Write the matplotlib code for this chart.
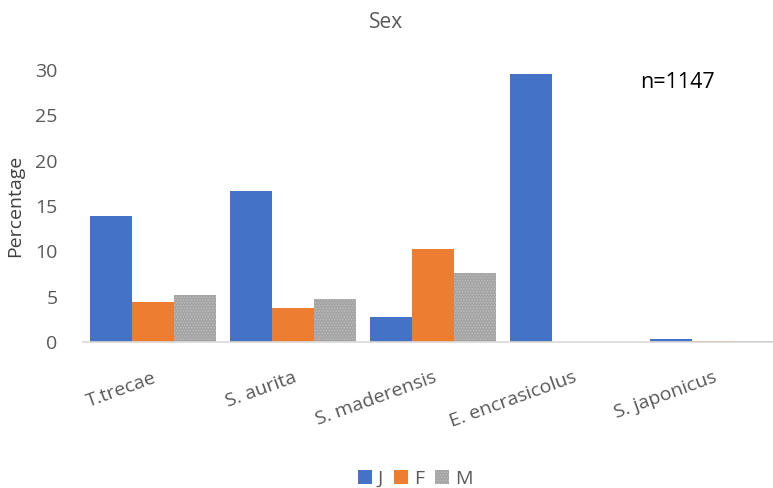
import matplotlib
matplotlib.use("Agg")
import matplotlib.pyplot as plt
import numpy as np

plt.rcParams['font.family'] = ['Open Sans', 'DejaVu Sans']
plt.rcParams['hatch.linewidth'] = 0.6

species = ["T.trecae", "S. aurita", "S. maderensis", "E. encrasicolus", "S. japonicus"]
juv = [13.9, 16.6, 2.8, 29.5, 0.3]
fem = [4.4, 3.8, 10.3, 0.0, 0.1]
male = [5.2, 4.7, 7.6, 0.0, 0.1]

txt = '#595959'

fig = plt.figure(figsize=(7.73, 4.88), dpi=100)
ax = fig.add_axes([0.107, 0.299, 0.906, 0.558])

x = np.arange(len(species))
w = 0.3
ax.bar(x - w, juv, w, color='#4472c4', label='J')
ax.bar(x, fem, w, color='#ed7d31', label='F')
ax.bar(x + w, male, w, color='#a5a5a5', hatch='......', edgecolor='#bdbdbd',
       linewidth=0, label='M')

ax.set_xlim(-0.5, len(species) - 0.5)
ax.set_ylim(0, 30)
ax.set_yticks(range(0, 31, 5))
ax.set_xticks(x)
ax.set_xticklabels(species, rotation=20, ha='right', rotation_mode='anchor',
                   color=txt, fontsize=14)
ax.tick_params(axis='both', length=0, labelsize=14, colors=txt)
ax.tick_params(axis='y', pad=18)
ax.tick_params(axis='x', pad=19)
ax.set_ylabel('Percentage', color='#404040', fontsize=14)
ax.yaxis.set_label_coords(-0.083, 0.5)
for s in ['top', 'right', 'left']:
    ax.spines[s].set_visible(False)
ax.spines['bottom'].set_color('#d9d9d9')
ax.spines['bottom'].set_linewidth(1.2)

ax.text(0.796, 0.955, 'n=1147', transform=ax.transAxes, fontsize=15.5,
        color='black', va='center')
fig.suptitle('Sex', y=0.975, fontsize=15, color=txt)

fig.legend(loc='lower center', ncol=3, frameon=False, fontsize=14,
           handlelength=0.7, handleheight=0.7, handletextpad=0.3,
           columnspacing=0.6, bbox_to_anchor=(0.537, -0.035), labelcolor=txt)

fig.savefig('out.png', dpi=100)
